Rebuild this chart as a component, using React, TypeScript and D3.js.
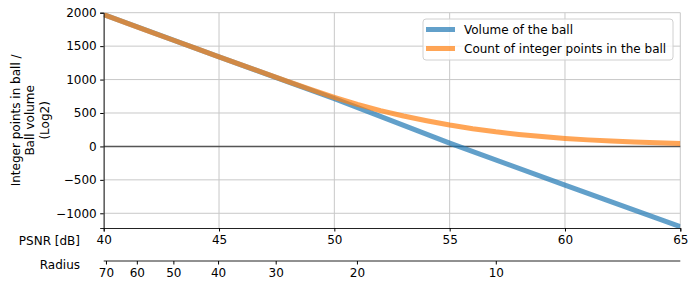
import React, { useEffect, useRef } from "react";
import * as d3 from "d3";

// PSNR values (dB) and log2 counts
const volumePsnr = [40, 45, 50, 55, 60, 65];
const volumeLog2 = [1970, 1340, 715, 50, -580, -1200];

const countPsnr = [40, 41, 42, 43, 44, 45, 46, 47, 48, 49, 50, 51, 52, 53, 54, 55, 56, 57, 58, 59, 60, 61, 62, 63, 64, 65];
const countLog2 = [1970, 1844, 1718, 1592, 1466, 1340, 1216, 1092, 968, 848, 735, 628, 535, 455, 385, 320, 265, 218, 180, 148, 120, 98, 80, 65, 55, 45];

const psnrTicks = [40, 45, 50, 55, 60, 65];
const yTicks = [-1000, -500, 0, 500, 1000, 1500, 2000];
const radiusTicks = [70, 60, 50, 40, 30, 20, 10];

const seriesNames = ["Volume of the ball", "Count of integer points in the ball"];
const seriesColors = ["#1f77b4", "#ff7f0e"];

// radius -> PSNR (dB)
const radiusToPsnr = (r: number) => 77 - 20 * Math.log10(r);

const W = 698;
const H = 291;
const margin = { top: 12.7, right: 17.7, bottom: 63, left: 103.7 };
const tickFont = "DejaVu Sans, sans-serif";

const App = () => {
  const svgRef = useRef<SVGSVGElement>(null);

  useEffect(() => {
    const svg = d3.select(svgRef.current);
    svg.selectAll("*").remove();

    const x = d3.scaleLinear().domain([40, 65]).range([margin.left, W - margin.right]);
    const y = d3.scaleLinear().domain([-1220, 2000]).range([H - margin.bottom, margin.top]);
    const [x0, x1] = x.range();
    const [yb, yt] = y.range();

    // grid
    const grid = svg.append("g").attr("stroke", "#c8c8c8").attr("stroke-width", 1);
    psnrTicks.forEach((t) => {
      grid.append("line").attr("x1", x(t)).attr("x2", x(t)).attr("y1", yt).attr("y2", yb);
    });
    yTicks.forEach((t) => {
      grid.append("line").attr("x1", x0).attr("x2", x1).attr("y1", y(t)).attr("y2", y(t));
    });
    svg.append("line")
      .attr("x1", x0).attr("x2", x1).attr("y1", y(0)).attr("y2", y(0))
      .attr("stroke", "#555").attr("stroke-width", 1.4);

    svg.append("clipPath").attr("id", "plot-clip")
      .append("rect").attr("x", x0).attr("y", yt).attr("width", x1 - x0).attr("height", yb - yt);

    const line = d3.line<[number, number]>().x((d) => x(d[0])).y((d) => y(d[1]));
    const series: [number, number][][] = [
      volumePsnr.map((p, i) => [p, volumeLog2[i]]),
      countPsnr.map((p, i) => [p, countLog2[i]]),
    ];
    series.forEach((s, i) => {
      svg.append("path")
        .attr("d", line(s))
        .attr("clip-path", "url(#plot-clip)")
        .attr("fill", "none")
        .attr("stroke", seriesColors[i])
        .attr("stroke-opacity", 0.7)
        .attr("stroke-width", 5)
        .attr("stroke-linejoin", "round");
    });

    // axes
    const yAxis = svg.append("g")
      .attr("transform", `translate(${x0},0)`)
      .call(d3.axisLeft(y).tickValues(yTicks).tickSize(3.5).tickPadding(3.5).tickFormat(d3.format("d")));
    const xAxis = svg.append("g")
      .attr("transform", `translate(0,${yb})`)
      .call(d3.axisBottom(x).tickValues(psnrTicks).tickSize(3.5).tickPadding(3.5));
    const rAxis = svg.append("g")
      .attr("transform", `translate(0,${yb + 33})`)
      .call(d3.axisBottom(x).tickValues(radiusTicks.map(radiusToPsnr)).tickSize(3.5).tickPadding(3.5)
        .tickFormat((_, i) => String(radiusTicks[i])));
    [yAxis, xAxis, rAxis].forEach((a) => {
      a.selectAll("text").attr("font-family", tickFont).attr("font-size", 12).attr("fill", "#000");
      a.selectAll("line").attr("stroke", "#000");
      a.select(".domain").attr("stroke", "#222");
    });
    rAxis.select(".domain").attr("d", `M${x0},0H${x1}`);

    svg.append("text")
      .attr("x", 80).attr("y", yb + 17)
      .attr("text-anchor", "end")
      .attr("font-family", tickFont).attr("font-size", 12)
      .text("PSNR [dB]");
    svg.append("text")
      .attr("x", 80).attr("y", yb + 41)
      .attr("text-anchor", "end")
      .attr("font-family", tickFont).attr("font-size", 12)
      .text("Radius");

    // y label
    const yl = svg.append("text")
      .attr("transform", `translate(30,${(yt + yb) / 2}) rotate(-90)`)
      .attr("text-anchor", "middle")
      .attr("font-family", tickFont).attr("font-size", 12);
    ["Integer points in ball /", "Ball volume", "(Log2)"].forEach((t, i) => {
      yl.append("tspan").attr("x", 0).attr("y", (i - 1) * 14.5 + 4).text(t);
    });

    // legend
    const lg = svg.append("g").attr("transform", "translate(423,19)");
    lg.append("rect")
      .attr("width", 250).attr("height", 41).attr("rx", 3)
      .attr("fill", "#fff").attr("fill-opacity", 0.8)
      .attr("stroke", "#d0d0d0");
    seriesNames.forEach((n, i) => {
      const ry = 10.5 + i * 19;
      lg.append("line")
        .attr("x1", 3).attr("x2", 32).attr("y1", ry).attr("y2", ry)
        .attr("stroke", seriesColors[i]).attr("stroke-opacity", 0.7).attr("stroke-width", 5);
      lg.append("text")
        .attr("x", 41).attr("y", ry + 4.5)
        .attr("font-family", tickFont).attr("font-size", 12)
        .text(n);
    });
  }, []);

  return (
    <svg ref={svgRef} width={W} height={H} style={{ position: "absolute", left: 0, top: 0, background: "#fff" }} />
  );
};

export default App;
